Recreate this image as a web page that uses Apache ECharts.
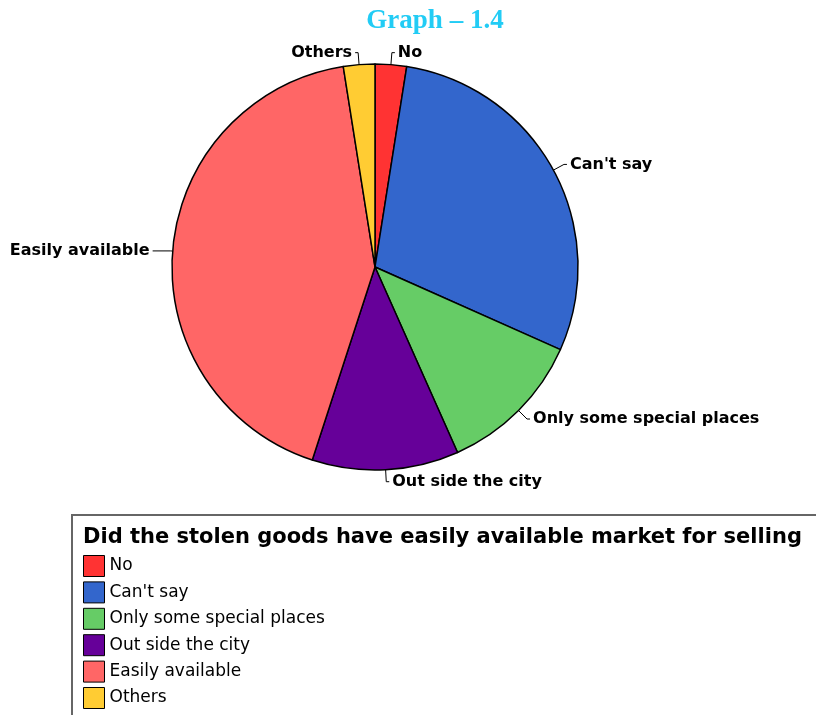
<!DOCTYPE html>
<html>
<head>
<meta charset="utf-8">
<script src="https://cdn.jsdelivr.net/npm/echarts@6/dist/echarts.min.js"></script>
<style>
  html, body { margin: 0; padding: 0; background: #fff; }
  #graph { width: 816px; height: 715px; }
</style>
</head>
<body>
<div id="graph"></div>
<script>
// answers, in drawing order (clockwise from 12 o'clock)
var categories = ['No', "Can't say", 'Only some special places', 'Out side the city', 'Easily available', 'Others'];
var values = [3, 35, 14, 14, 51, 3];
var colors = ['#FF3333', '#3366CC', '#66CC66', '#660099', '#FF6666', '#FFCC33'];

var chartTitle = 'Graph \u2013 1.4';
var legendTitle = 'Did the stolen goods have easily available market for selling';

var pieData = categories.map(function (name, i) {
    var d = { name: name, value: values[i], itemStyle: { color: colors[i] } };
    if (name == 'Easily available') {
        d.labelLine = { length: 2, length2: 18 };
    }
    return d;
});

var myChart = echarts.init(document.getElementById('graph'));
myChart.setOption({
    animation: false,
    title: {
        text: chartTitle,
        left: 430,
        textAlign: 'center',
        top: 3,
        textStyle: { fontFamily: 'Liberation Serif', fontWeight: 'bold', fontSize: 27, color: '#22CCF5' }
    },
    graphic: [{
        type: 'rect',
        shape: { x: 72, y: 515, width: 800, height: 300 },
        style: { fill: 'none', stroke: '#666', lineWidth: 2 }
    }, {
        type: 'text',
        left: 83,
        top: 527,
        style: {
            text: legendTitle,
            font: 'bold 21px "DejaVu Sans"',
            fill: '#000'
        }
    }],
    legend: {
        orient: 'vertical',
        left: 78,
        top: 550,
        height: 200,
        icon: 'rect',
        itemWidth: 21,
        itemHeight: 21,
        itemGap: 4.4,
        itemStyle: { borderColor: '#000', borderWidth: 1 },
        textStyle: { fontFamily: 'DejaVu Sans', fontSize: 17, color: '#000', padding: [0, 0, 0, 0] },
        data: categories
    },
    series: [{
        type: 'pie',
        center: [375, 267],
        radius: 203,
        startAngle: 90,
        clockwise: true,
        avoidLabelOverlap: false,
        itemStyle: { borderColor: '#000', borderWidth: 1.5 },
        label: {
            show: true,
            position: 'outside',
            fontFamily: 'DejaVu Sans',
            fontWeight: 'bold',
            fontSize: 16,
            color: '#000',
            distanceToLabelLine: 3
        },
        labelLine: {
            show: true,
            length: 12,
            length2: 3,
            lineStyle: { color: '#000', width: 1 }
        },
        emphasis: { disabled: true },
        data: pieData
    }]
});
</script>
</body>
</html>
